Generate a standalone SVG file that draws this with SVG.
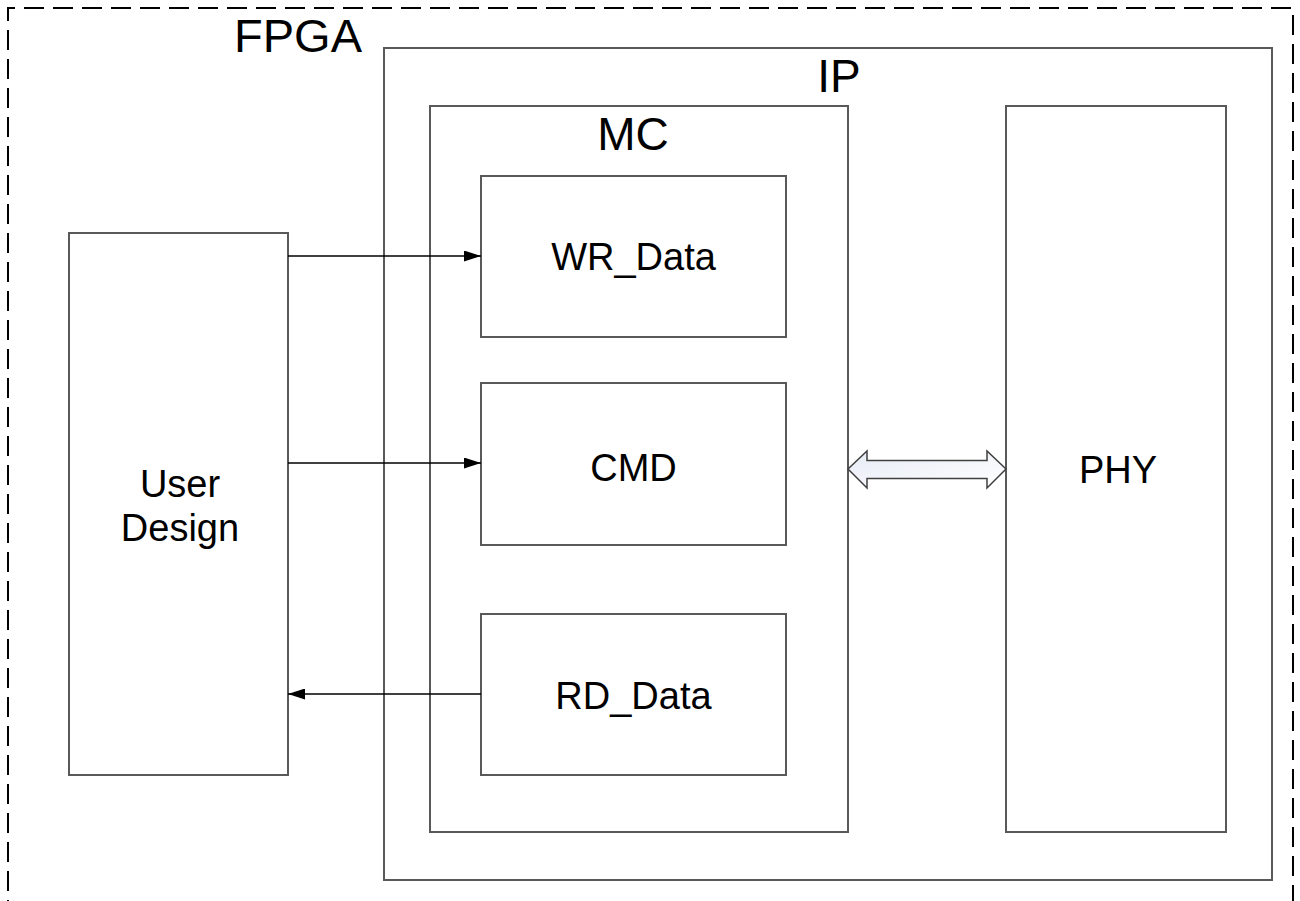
<svg xmlns="http://www.w3.org/2000/svg" width="1300" height="901" viewBox="0 0 1300 901">
  <style>
    .box { fill: #ffffff; stroke: #595959; stroke-width: 2; }
    .frame { fill: none; stroke: #000000; stroke-width: 2; stroke-dasharray: 20 9; }
    .label { font-family: "Liberation Sans", Arial, sans-serif; fill: #000000; text-anchor: middle; }
    .title { font-size: 46px; }
    .name { font-size: 38px; }
    .wire { stroke: #000000; stroke-width: 1.5; fill: none; }
    .bus { stroke: #404040; stroke-width: 1.5; fill: url(#busFill); }
  </style>
  <defs>
    <marker id="head" markerWidth="17" markerHeight="11" refX="17" refY="5.5" orient="auto" markerUnits="userSpaceOnUse">
      <path d="M0,0 L17,5.5 L0,11 Z" fill="#000000"/>
    </marker>
    <linearGradient id="busFill" x1="0" y1="0" x2="1" y2="1">
      <stop offset="0" stop-color="#e6ebf5"/>
      <stop offset="1" stop-color="#ffffff"/>
    </linearGradient>
  </defs>

  <rect width="1300" height="901" fill="#ffffff"/>

  <!-- FPGA boundary (dashed) -->
  <g id="fpga">
    <path class="frame" d="M8,920 L8,8 L1293,8 L1293,920"/>
    <text class="label" x="298" y="52" font-size="47">FPGA</text>
  </g>

  <!-- IP block -->
  <g id="ip">
    <rect class="box" x="384" y="48" width="888" height="832"/>
    <text class="label title" x="839" y="92">IP</text>
  </g>

  <!-- Memory controller -->
  <g id="mc">
    <rect class="box" x="430" y="106" width="418" height="726"/>
    <text class="label title" x="633" y="150">MC</text>
  </g>

  <g id="wr_data">
    <rect class="box" x="481" y="176" width="305" height="161"/>
    <text class="label name" x="633.5" y="270">WR_Data</text>
  </g>

  <g id="cmd">
    <rect class="box" x="481" y="383" width="305" height="162"/>
    <text class="label name" x="633.5" y="481">CMD</text>
  </g>

  <g id="rd_data">
    <rect class="box" x="481" y="614" width="305" height="161"/>
    <text class="label name" x="633.5" y="709">RD_Data</text>
  </g>

  <g id="phy">
    <rect class="box" x="1006" y="106" width="220" height="726"/>
    <text class="label name" x="1118" y="483">PHY</text>
  </g>

  <g id="user_design">
    <rect class="box" x="69" y="233" width="219" height="542"/>
    <text class="label name" x="180" y="497">User</text>
    <text class="label name" x="180" y="541">Design</text>
  </g>

  <!-- Connectors -->
  <g id="connectors">
    <line class="wire" x1="288" y1="256" x2="481" y2="256" marker-end="url(#head)"/>
    <line class="wire" x1="288" y1="463" x2="481" y2="463" marker-end="url(#head)"/>
    <line class="wire" x1="481" y1="694" x2="288" y2="694" marker-end="url(#head)"/>
    <!-- MC <-> PHY bus -->
    <path class="bus" d="M848,469 L867,451 L867,460.5 L987,460.5 L987,451 L1006,469 L987,488 L987,478.5 L867,478.5 L867,488 Z"/>
  </g>
</svg>
